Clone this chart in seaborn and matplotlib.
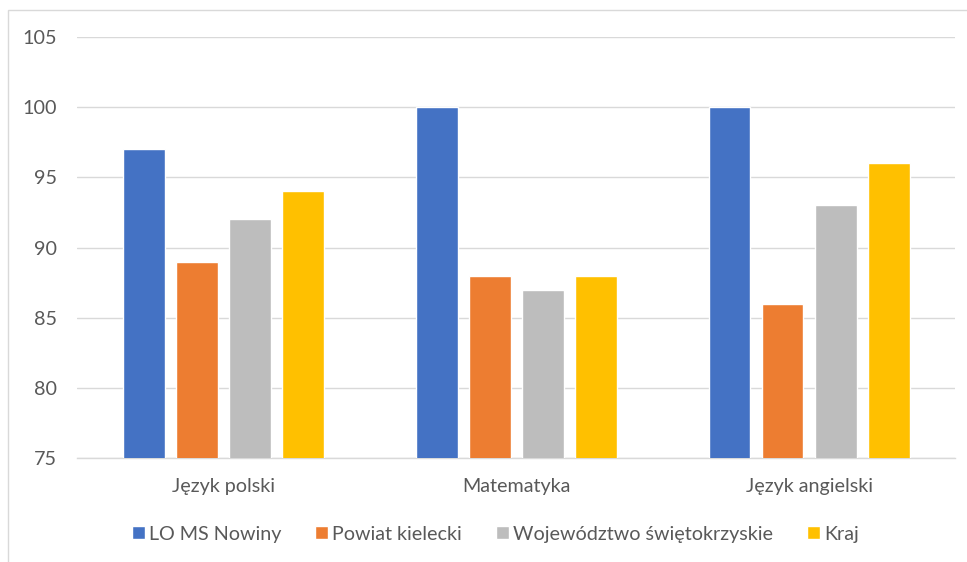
import pandas as pd
import matplotlib.pyplot as plt
import seaborn as sns
from matplotlib.patches import Rectangle

# dane z wykresu
subjects = ["Język polski", "Matematyka", "Język angielski"]
series = ["LO MS Nowiny", "Powiat kielecki", "Województwo świętokrzyskie", "Kraj"]
lo_ms_nowiny = [97, 100, 100]
powiat = [89, 88, 86]
wojewodztwo = [92, 87, 93]
kraj = [94, 88, 96]

colors = ["#4472C4", "#ED7D31", "#BDBDBD", "#FFC000"]
TXT = "#595959"
FS = 14.2

sns.set_theme(style="white")
plt.rcParams["font.family"] = ["Lato", "DejaVu Sans"]


def build_df():
    rows = []
    for name, vals in zip(series, [lo_ms_nowiny, powiat, wojewodztwo, kraj]):
        for subj, v in zip(subjects, vals):
            rows.append({"przedmiot": subj, "seria": name, "wynik": v})
    return pd.DataFrame(rows)


df = build_df()

fig = plt.figure(figsize=(9.67, 5.62), dpi=100)
ax = fig.add_axes([0.080, 0.185, 0.908, 0.749])

sns.barplot(data=df, x="przedmiot", y="wynik", hue="seria", hue_order=series,
            palette=colors, width=0.725, gap=0.21, saturation=1, ax=ax,
            errorbar=None, zorder=3)

ax.set_ylim(75, 105)
ax.set_yticks(range(75, 106, 5))
ax.set_xlim(-0.5, 2.5)
ax.yaxis.grid(True, color="#D9D9D9", linewidth=1, zorder=0)
ax.set_axisbelow(True)
for s in ["top", "right", "left"]:
    ax.spines[s].set_visible(False)
ax.spines["bottom"].set_color("#D9D9D9")
ax.spines["bottom"].set_linewidth(1)
ax.set_xlabel("")
ax.set_ylabel("")
ax.tick_params(axis="both", length=0, colors=TXT, labelsize=FS)
ax.tick_params(axis="x", pad=14.5)
ax.tick_params(axis="y", pad=15)

ax.legend(loc="center", bbox_to_anchor=(0.476, -0.181), ncol=4, frameon=False,
          fontsize=FS, labelcolor=TXT, handlelength=0.66, handleheight=0.66,
          handletextpad=0.2, columnspacing=1.72)

# ramka obszaru wykresu
fig.patches.append(Rectangle((8 / 967, -0.01), 1.0, 1 - 10 / 562 + 0.01,
                             transform=fig.transFigure, fill=False,
                             edgecolor="#D9D9D9", linewidth=1))

fig.savefig("out.png", dpi=100)
